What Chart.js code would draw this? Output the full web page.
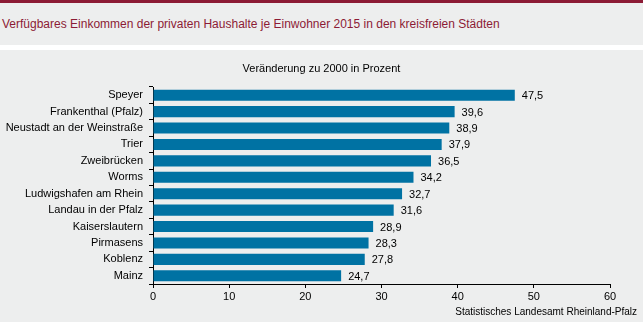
<!DOCTYPE html>
<html>
<head>
<meta charset="utf-8">
<script src="https://cdn.jsdelivr.net/npm/chart.js"></script>
<style>
  html, body { margin: 0; padding: 0; background: #fff; }
  body { width: 643px; height: 322px; overflow: hidden; font-family: "Liberation Sans", Arial, sans-serif; }
  .topbar { height: 3px; background: #8c1b35; }
  .head { height: 42px; background: #edeeee; position: relative; }
  .head span { position: absolute; left: 2px; top: 14px; font-size: 12px; color: #8c1b35; }
  .gap { height: 5px; background: #fff; }
  .panel { height: 272px; background: #edeeee; position: relative; }
  canvas { display: block; }
</style>
</head>
<body>
<div class="topbar"></div>
<div class="head"><span>Verfügbares Einkommen der privaten Haushalte je Einwohner 2015 in den kreisfreien Städten</span></div>
<div class="gap"></div>
<div class="panel"><canvas id="chart" width="643" height="272"></canvas></div>
<script>
// Daten
const staedte = ['Speyer', 'Frankenthal (Pfalz)', 'Neustadt an der Weinstraße', 'Trier', 'Zweibrücken', 'Worms',
  'Ludwigshafen am Rhein', 'Landau in der Pfalz', 'Kaiserslautern', 'Pirmasens', 'Koblenz', 'Mainz'];
const veraenderung = [47.5, 39.6, 38.9, 37.9, 36.5, 34.2, 32.7, 31.6, 28.9, 28.3, 27.8, 24.7];
const xTicks = [0, 10, 20, 30, 40, 50, 60];

const FONT = '"Liberation Sans", Arial, sans-serif';

// Werte rechts neben die Balken schreiben, plus Untertitel und Quelle
const extras = {
  id: 'extras',
  afterDatasetsDraw(chart) {
    const ctx = chart.ctx;
    const meta = chart.getDatasetMeta(0);
    ctx.save();
    ctx.font = '11px ' + FONT;
    ctx.fillStyle = '#000';
    ctx.textBaseline = 'middle';
    ctx.textAlign = 'left';
    meta.data.forEach((bar, i) => {
      ctx.fillText(veraenderung[i].toFixed(1).replace('.', ','), bar.x + 7, bar.y + 1);
    });
    ctx.textAlign = 'center';
    ctx.fillText('Veränderung zu 2000 in Prozent', chart.width / 2, 19);
    ctx.font = '10px ' + FONT;
    ctx.textAlign = 'right';
    ctx.fillText('Statistisches Landesamt Rheinland-Pfalz', 637, 262);
    ctx.restore();
  }
};

new Chart(document.getElementById('chart'), {
  type: 'bar',
  data: {
    labels: staedte,
    datasets: [{
      data: veraenderung,
      backgroundColor: '#0072a3',
      barPercentage: 0.68,
      categoryPercentage: 1
    }]
  },
  plugins: [extras],
  options: {
    indexAxis: 'y',
    responsive: false,
    animation: false,
    layout: { padding: { top: 37, right: 33, left: 0, bottom: 0 } },
    plugins: { legend: { display: false }, tooltip: { enabled: false } },
    scales: {
      x: {
        min: 0, max: 60,
        afterBuildTicks(scale) { scale.ticks = xTicks.map(v => ({ value: v })); },
        afterFit(scale) { scale.height = 38; },
        grid: { drawOnChartArea: false, color: '#000', tickLength: 4 },
        border: { color: '#000', width: 1 },
        ticks: { color: '#000', font: { family: FONT, size: 11 }, padding: 2, maxRotation: 0 }
      },
      y: {
        afterFit(scale) { scale.width = 153; },
        grid: { drawOnChartArea: false, color: '#000', tickLength: 4, offset: true },
        border: { color: '#000', width: 1 },
        ticks: { color: '#000', font: { family: FONT, size: 11 }, padding: 6 }
      }
    }
  }
});
</script>
</body>
</html>
